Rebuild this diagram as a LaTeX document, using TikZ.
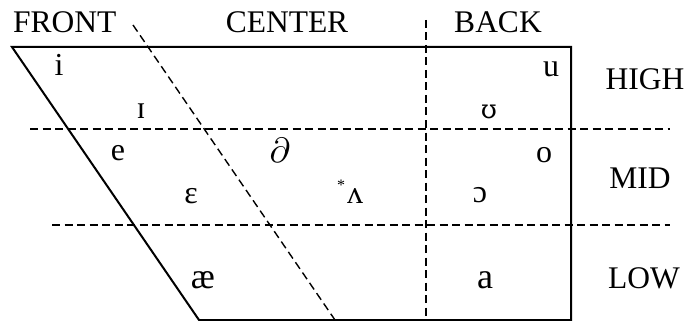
\documentclass[tikz,border=0pt]{standalone}
\usepackage{fontspec}
\usepackage{graphicx}
\setmainfont{Liberation Serif}
\newfontfamily\dvserif{DejaVu Serif}
\begin{document}
\begin{tikzpicture}[x=1pt,y=-1pt,
  solidline/.style={line width=2pt},
  dashline/.style={line width=1.4pt, dash pattern=on 8pt off 4.5pt},
  lab/.style={font=\fontsize{31.5}{34}\selectfont, inner sep=0pt},
  vow/.style={font=\fontsize{32}{34}\selectfont, inner sep=0pt},
  bigvow/.style={font=\fontsize{36}{38}\selectfont, inner sep=0pt}]
\useasboundingbox (0,0) rectangle (686,321);
% frame
\coordinate (tl) at (12,47);
\coordinate (tr) at (571,47);
\coordinate (br) at (571,320);
\coordinate (bl) at (199,320);
\draw[solidline] (tl) -- (tr) -- (br) -- (bl) -- cycle;
% dashed lines
\coordinate (d1a) at (133,25);
\coordinate (d1b) at (335,320);
\draw[dashline] (d1a) -- (d1b);
\coordinate (d2a) at (426,20);
\coordinate (d2b) at (426,320);
\draw[dashline] (d2a) -- (d2b);
\coordinate (h1a) at (30,129);
\coordinate (h1b) at (670,129);
\draw[dashline] (h1a) -- (h1b);
\coordinate (h2a) at (52,225);
\coordinate (h2b) at (670,225);
\draw[dashline] (h2a) -- (h2b);
% labels
\node[lab, anchor=base west] (front) at (13,33) {FRONT};
\node[lab, anchor=base] (center) at (287,33) {CENTER};
\node[lab, anchor=base] (back) at (498,33) {BACK};
\node[lab, anchor=base] (high) at (645,90) {HIGH};
\node[lab, anchor=base] (mid) at (640,188) {MID};
\node[lab, anchor=base] (low) at (644,288) {LOW};
% vowels
\node[vow, anchor=base] (i) at (59,76) {i};
\node[vow, anchor=base] (ih) at (141,118) {ɪ};
\node[vow, anchor=base] (e) at (118,160) {e};
\node[vow, anchor=base] (eh) at (191,203) {ε};
\node[bigvow, anchor=base] (ae) at (203,288) {æ};
\node[anchor=base, inner sep=0pt] (schwa) at (280,162) {\scalebox{3.5}{$\partial$}};
\node[anchor=base, inner sep=0pt, font=\fontsize{16}{16}\selectfont] (star) at (341,190) {*};
\node[vow, anchor=base] (uh) at (355,203) {ʌ};
\node[vow, anchor=base] (u) at (551,77) {u};
\node[anchor=base, inner sep=0pt, font=\fontsize{26}{28}\selectfont\dvserif] (uu) at (489,118) {ʊ};
\node[vow, anchor=base] (o) at (544,162) {o};
\node[vow, anchor=base] (oh) at (480,202) {ɔ};
\node[bigvow, anchor=base] (a) at (485,288) {a};
\end{tikzpicture}
\end{document}
